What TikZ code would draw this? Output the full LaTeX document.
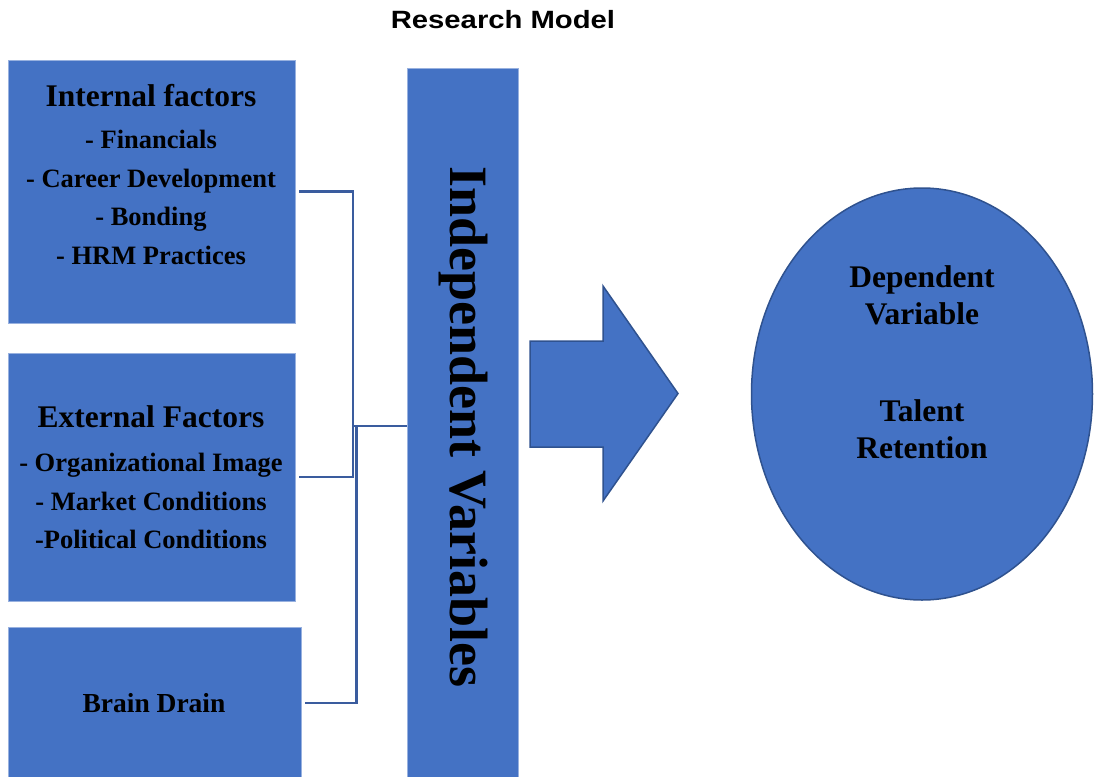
\documentclass[tikz,border=0pt]{standalone}
\usepackage{graphicx}
\usepackage{fontspec}
\setmainfont{Liberation Serif}
\newfontfamily\titlefont{Liberation Sans}
\usepackage{tikz}
\usetikzlibrary{shapes.geometric}

\definecolor{fillblue}{HTML}{4472C4}
\definecolor{edgeblue}{HTML}{2F528F}
\definecolor{lineblue}{HTML}{3A5C9E}
\newcommand\headfont{\fontsize{31.5}{38}\selectfont}

\begin{document}
\begin{tikzpicture}[x=1pt,y=-1pt,
  factor/.style={rectangle,fill=fillblue,draw=fillblue!55!white,line width=0.6pt,inner sep=0pt},
  txt/.style={align=center,inner sep=0pt,font=\bfseries\fontsize{26.5}{38.5}\selectfont},
  link/.style={draw=lineblue,line width=2.1pt}]
\useasboundingbox (0,0) rectangle (1096,777);

\node[font=\titlefont\bfseries\fontsize{25}{25}\selectfont] (title) at (503,20) {\scalebox{1.17}[1]{Research Model}};

% left column of factor boxes
\node[factor,minimum width=287,minimum height=263] (internal) at (151.5,191.5) {};
\node[factor,minimum width=287,minimum height=248] (external) at (151.5,477) {};
\node[factor,minimum width=293,minimum height=152] (brain) at (154.5,703) {};
\node[txt] (internaltext) at (151,174.5) {{\headfont Internal factors}\\[4pt]- Financials\\- Career Development\\- Bonding\\- HRM Practices};
\node[txt] (externaltext) at (151,477) {{\headfont External Factors}\\[6pt]- Organizational Image\\- Market Conditions\\-Political Conditions};
\node[txt,font=\bfseries\fontsize{27.5}{30}\selectfont] (braintext) at (154,703) {Brain Drain};

% middle bar
\node[factor,minimum width=111,minimum height=712] (indep) at (462.5,424) {};
\node[rotate=-90,inner sep=0pt,font=\bfseries\fontsize{54}{54}\selectfont] (indeptext) at (463,427) {Independent Variables};

% brackets
\coordinate (fork) at (353,426);
\coordinate (fork2) at (356.5,426);
\draw[link] ([xshift=4]internal.east) -| (fork) |- ([xshift=4]external.east);
\draw[link] (fork) -- (fork -| indep.west);
\draw[link] (fork2) |- ([xshift=4]brain.east);

% block arrow
\draw[fill=fillblue,draw=edgeblue,line width=1.5pt,line join=miter]
  (530,341) -- (603,341) -- (603,286) -- (678,393.5) -- (603,501) -- (603,447) -- (530,447) -- cycle;

% outcome
\node[ellipse,fill=fillblue,draw=edgeblue,line width=1.5pt,minimum width=341,minimum height=412,inner sep=0pt] (dependent) at (922,394) {};
\node[txt,font=\bfseries\fontsize{31.5}{36.5}\selectfont] (dependenttext) at (922,362) {Dependent\\Variable\\[61pt]Talent\\Retention};

\end{tikzpicture}
\end{document}
